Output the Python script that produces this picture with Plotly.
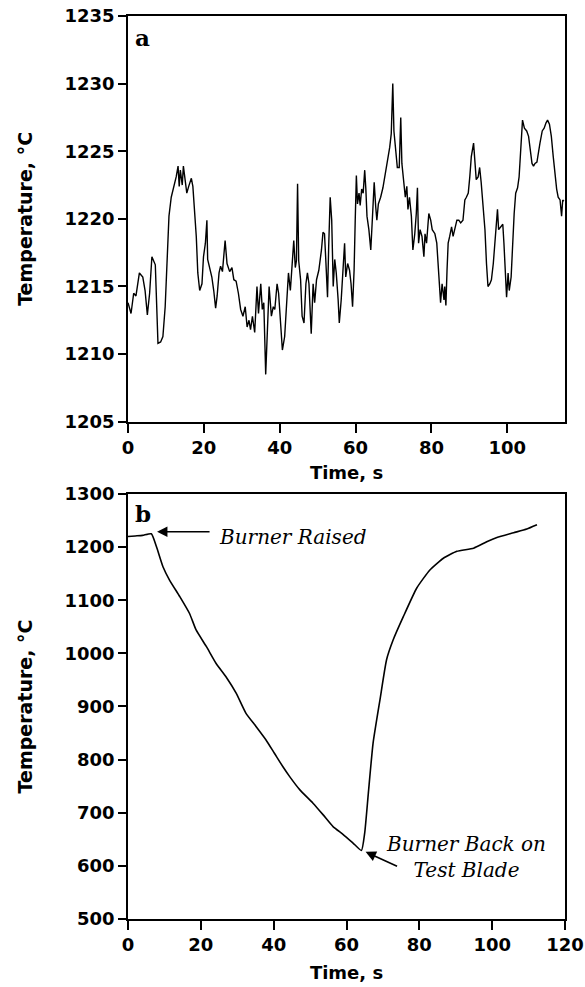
import plotly.graph_objects as go

# Panel a: steady-state temperature trace
time_a = [0.0, 0.8, 1.5, 2.1, 3.0, 3.9, 4.5, 5.1, 5.7, 6.3, 7.2, 7.9, 8.6, 9.2, 9.8, 10.3, 10.8, 11.4,
          12.1, 12.7, 13.2, 13.5, 13.8, 14.3, 14.6, 15.1, 15.5, 16.0, 16.7, 17.1, 17.5, 18.0, 18.4, 18.9,
          19.5, 19.9, 20.4, 20.8, 21.0, 21.4, 22.1, 22.6, 23.1, 23.5, 24.0, 24.4, 24.9, 25.6, 26.1, 26.8,
          27.4, 27.9, 28.5, 29.1, 29.7, 30.3, 30.9, 31.4, 31.9, 32.3, 32.8, 33.4, 34.0, 34.4, 35.0, 35.4,
          35.8, 36.3, 36.7, 37.2, 37.8, 38.3, 38.7, 39.3, 39.7, 40.2, 40.7, 41.3, 41.7, 42.3, 42.8, 43.2,
          43.7, 44.1, 44.4, 44.7, 45.0, 45.5, 45.9, 46.4, 46.9, 47.3, 47.7, 48.3, 48.8, 49.2, 49.7, 50.3,
          51.0, 51.4, 51.8, 52.1, 52.6, 52.9, 53.3, 53.7, 54.1, 54.5, 54.9, 55.4, 55.7, 56.2, 56.7, 57.1,
          57.4, 57.9, 58.4, 58.8, 59.2, 59.6, 59.9, 60.2, 60.5, 60.9, 61.2, 61.6, 62.0, 62.4, 62.7, 63.0,
          63.5, 64.0, 64.4, 64.9, 65.3, 65.6, 66.0, 66.6, 67.2, 67.7, 68.1, 68.6, 69.0, 69.4, 69.8, 70.1,
          70.6, 71.0, 71.5, 71.9, 72.2, 72.7, 73.1, 73.5, 73.8, 74.2, 74.7, 75.1, 75.6, 76.0, 76.3, 76.6,
          77.0, 77.5, 78.0, 78.3, 78.7, 79.3, 79.8, 80.2, 80.9, 81.4, 81.8, 82.0, 82.4, 82.8, 83.3, 83.5,
          83.8, 84.1, 84.4, 84.8, 85.3, 85.7, 86.1, 86.7, 87.2, 87.7, 88.3, 88.8, 89.2, 89.7, 90.1, 90.5,
          91.1, 91.4, 91.8, 92.3, 92.7, 93.1, 93.6, 94.1, 94.5, 94.9, 95.4, 95.8, 96.3, 96.7, 97.1, 97.4,
          97.7, 98.2, 98.8, 99.1, 99.5, 99.8, 100.2, 100.5, 101.0, 101.4, 101.8, 102.2, 102.7, 103.1,
          103.5, 104.0, 104.5, 105.1, 105.6, 106.0, 106.5, 106.9, 107.3, 107.8, 108.2, 108.6, 109.2,
          109.7, 110.2, 110.6, 111.1, 111.6, 112.1, 112.6, 113.0, 113.4, 113.9, 114.3, 114.6, 114.9]
temp_a = [1213.8, 1213.0, 1214.5, 1214.3, 1216.0, 1215.7, 1214.7, 1212.9, 1214.5, 1217.2, 1216.6, 1210.8,
          1210.9, 1211.3, 1213.5, 1217.2, 1220.2, 1221.6, 1222.4, 1223.1, 1223.9, 1222.4, 1223.6, 1222.5,
          1223.9, 1222.7, 1221.9, 1222.4, 1223.0, 1222.4, 1220.9, 1218.7, 1216.0, 1214.7, 1215.2, 1217.2,
          1218.2, 1219.9, 1217.0, 1216.6, 1215.7, 1214.7, 1213.4, 1214.3, 1216.0, 1216.5, 1216.1, 1218.4,
          1216.7, 1216.1, 1216.4, 1215.5, 1215.4, 1214.5, 1213.3, 1212.8, 1213.5, 1212.0, 1212.5, 1211.8,
          1212.8, 1211.6, 1215.0, 1213.0, 1215.2, 1213.3, 1213.8, 1208.5, 1211.3, 1215.0, 1212.8, 1213.5,
          1213.3, 1215.2, 1214.5, 1212.3, 1210.3, 1211.3, 1213.0, 1216.0, 1214.7, 1216.2, 1218.4, 1216.4,
          1216.9, 1222.6, 1216.9, 1215.5, 1212.8, 1212.3, 1215.2, 1216.0, 1215.2, 1211.5, 1215.2, 1213.8,
          1215.5, 1216.2, 1217.7, 1219.0, 1218.9, 1217.2, 1214.2, 1217.9, 1221.6, 1219.9, 1215.0, 1217.0,
          1216.0, 1214.0, 1212.3, 1214.0, 1216.2, 1218.2, 1215.7, 1216.7, 1216.2, 1215.2, 1213.5, 1216.2,
          1219.9, 1223.2, 1221.1, 1221.9, 1221.0, 1222.2, 1221.9, 1223.6, 1222.2, 1220.2, 1219.2, 1217.7,
          1219.9, 1222.7, 1220.9, 1219.9, 1221.1, 1221.6, 1222.3, 1223.1, 1223.6, 1224.4, 1225.3, 1226.3,
          1230.0, 1226.5, 1224.6, 1223.8, 1223.8, 1227.5, 1224.1, 1222.9, 1221.6, 1222.4, 1220.7, 1221.6,
          1220.2, 1217.7, 1218.9, 1220.4, 1222.3, 1218.2, 1219.2, 1218.7, 1217.2, 1218.9, 1218.2, 1220.4,
          1219.9, 1219.2, 1218.9, 1218.2, 1216.2, 1215.5, 1213.8, 1215.2, 1214.0, 1215.0, 1213.6, 1216.2,
          1218.2, 1218.7, 1219.4, 1218.7, 1219.2, 1219.9, 1219.9, 1219.7, 1219.9, 1221.4, 1221.6, 1221.9,
          1223.1, 1224.6, 1225.6, 1224.6, 1222.9, 1223.1, 1223.8, 1222.7, 1221.0, 1219.2, 1216.7, 1215.0,
          1215.2, 1215.5, 1216.7, 1218.2, 1219.2, 1220.7, 1219.2, 1219.4, 1219.6, 1218.2, 1216.2, 1214.2,
          1216.0, 1214.7, 1215.7, 1218.2, 1220.4, 1221.9, 1222.3, 1223.1, 1225.3, 1227.3, 1226.7, 1226.5,
          1226.1, 1225.1, 1224.1, 1223.9, 1224.1, 1224.2, 1225.1, 1225.6, 1226.5, 1226.7, 1227.1, 1227.3,
          1227.0, 1226.1, 1224.6, 1223.1, 1222.2, 1221.6, 1221.4, 1220.2, 1221.4, 1221.3]

# Panel b: burner raised / lowered transient
time_b = [0, 2, 4, 6.4, 7.8, 9.6, 11.4, 14.2, 16.9, 18.7, 21.5, 24.2, 26.9, 29.7, 32.4, 35.2, 37.9,
          40.2, 42.5, 44.4, 47.2, 50.8, 53.6, 56.3, 59.1, 61.8, 64.1, 65.0, 66.0, 67.3, 69.2, 71.0,
          72.8, 75.6, 79.3, 82.9, 86.6, 90.3, 94.9, 98.5, 101.3, 105.9, 109.5, 112.3]
temp_b = [1220, 1221, 1222, 1225, 1201, 1163, 1138, 1107, 1075, 1044, 1013, 981, 956, 925, 887, 862,
          837, 812, 787, 768, 743, 718, 696, 674, 659, 643, 629, 662, 737, 831, 913, 988, 1025, 1069,
          1123, 1157, 1179, 1192, 1198, 1210, 1218, 1227, 1234, 1242]

ticks_a_y = [1205, 1210, 1215, 1220, 1225, 1230, 1235]
ticks_a_x = [0, 20, 40, 60, 80, 100]
ticks_b_y = [500, 600, 700, 800, 900, 1000, 1100, 1200, 1300]
ticks_b_x = [0, 20, 40, 60, 80, 100, 120]

tickfont = dict(family="DejaVu Sans", size=18, color="black", weight="bold")
xtitlefont = dict(family="DejaVu Sans", size=18, color="black", weight="bold")
ytitlefont = dict(family="DejaVu Sans", size=19, color="black", weight="bold")

fig = go.Figure()
fig.add_trace(go.Scatter(x=time_a, y=temp_a, mode="lines", line=dict(color="black", width=1.4),
                         xaxis="x", yaxis="y", showlegend=False))
fig.add_trace(go.Scatter(x=time_b, y=temp_b, mode="lines",
                         line=dict(color="black", width=1.6, shape="spline", smoothing=0.5),
                         xaxis="x2", yaxis="y2", showlegend=False))

axis_common = dict(showline=True, mirror=True, linecolor="black", linewidth=1.6, ticks="outside",
                   tickwidth=1.5, tickcolor="black", showgrid=False, zeroline=False,
                   tickfont=tickfont, automargin=False, ticklabeloverflow="allow")

fig.update_layout(
    width=585, height=987,
    margin=dict(l=128, r=20, t=16, b=68),
    paper_bgcolor="white", plot_bgcolor="white",
    xaxis=dict(domain=[0, 1], anchor="y", range=[0, 115.2], tickvals=ticks_a_x, ticklen=9,
               title=dict(text="Time, s", font=xtitlefont, standoff=9), **axis_common),
    yaxis=dict(domain=[0.5507, 1.0], anchor="x", range=[1205, 1235], tickvals=ticks_a_y, ticklen=8,
               title=dict(text="Temperature, °C", font=ytitlefont, standoff=27), **axis_common),
    xaxis2=dict(domain=[0, 1], anchor="y2", range=[0, 120], tickvals=ticks_b_x, ticklen=9,
                title=dict(text="Time, s", font=xtitlefont, standoff=12), **axis_common),
    yaxis2=dict(domain=[0, 0.4707], anchor="x2", range=[500, 1300], tickvals=ticks_b_y, ticklen=8,
                title=dict(text="Temperature, °C", font=ytitlefont, standoff=27), **axis_common),
)

serif_bold = dict(family="DejaVu Serif", size=23, color="black", weight="bold")
serif_it = dict(family="DejaVu Serif", size=20, color="black", style="italic")

fig.add_annotation(text="a", xref="x domain", yref="y domain", x=0.034, y=0.947,
                   showarrow=False, font=serif_bold, xanchor="center", yanchor="middle")
fig.add_annotation(text="b", xref="x2 domain", yref="y2 domain", x=0.034, y=0.955,
                   showarrow=False, font=serif_bold, xanchor="center", yanchor="middle")

# Burner Raised
fig.add_annotation(text="", xref="x2 domain", yref="y2 domain", x=0.0665, y=0.911,
                   ax=54, ay=0, showarrow=True, arrowhead=2, arrowsize=1.3, arrowwidth=1.6,
                   arrowcolor="black")
fig.add_annotation(text="Burner Raised", xref="x2 domain", yref="y2 domain", x=0.204, y=0.899,
                   showarrow=False, font=serif_it, xanchor="left", yanchor="middle")
# Burner Back on Test Blade
fig.add_annotation(text="", xref="x2 domain", yref="y2 domain", x=0.5436, y=0.158,
                   ax=33, ay=15, showarrow=True, arrowhead=2, arrowsize=1.3, arrowwidth=1.6,
                   arrowcolor="black")
fig.add_annotation(text="Burner Back on<br>Test Blade", xref="x2 domain", yref="y2 domain",
                   x=0.773, y=0.146, showarrow=False, font=serif_it, xanchor="center",
                   yanchor="middle", align="center")

# remove the default page margin so the 585x987 figure fills the window exactly
fig.write_html("out.html", config={"displayModeBar": False},
               post_script="document.body.style.margin='0';document.body.style.overflow='hidden';")
